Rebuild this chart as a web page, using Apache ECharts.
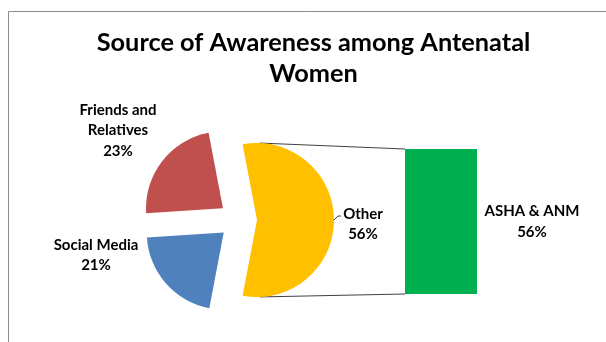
<!DOCTYPE html>
<html>
<head>
<meta charset="utf-8">
<script src="https://cdn.jsdelivr.net/npm/echarts@6/dist/echarts.min.js"></script>
<style>html,body{margin:0;padding:0;background:#fff}#c{width:606px;height:342px}</style>
</head>
<body>
<div id="c"></div>
<script>
// ---- data ----
const pieCategories = ['Other', 'Friends and Relatives', 'Social Media'];
const pieValues = [56, 23, 21];
const barCategories = ['ASHA & ANM'];
const barValues = [56];
const titleText = 'Source of Awareness among Antenatal\nWomen';

// ---- style / layout ----
const pieColors = ['#FFC000', '#C0504D', '#4F81BD'];
const barColor = '#00B050';
const FONT = 'Lato';
const labelPos = [[363, 224], [118, 130.5], [96, 255]];
const OFFSET = 19;

const chart = echarts.init(document.getElementById('c'), null, {renderer: 'canvas'});
const labelStyle = {fontFamily: FONT, fontWeight: 'bold', fontSize: 15, lineHeight: 20.5, fill: '#000'};
const option = {
  animation: false,
  backgroundColor: '#fff',
  title: {
    text: titleText, left: 308.5, top: 22, textAlign: 'center',
    textStyle: {fontFamily: FONT, fontWeight: 'bold', fontSize: 25.3, lineHeight: 31.5, color: '#000'}
  },
  grid: {left: 405, top: 149, width: 72, height: 145},
  xAxis: {type: 'category', data: barCategories, show: false},
  yAxis: {type: 'value', min: 0, max: 56, show: false},
  series: [
    {
      type: 'pie', center: [238, 220], radius: 77,
      startAngle: -100.8, clockwise: false,
      selectedMode: 'multiple', selectedOffset: OFFSET,
      emphasis: {disabled: true}, silent: true,
      label: {show: false}, labelLine: {show: false},
      data: pieCategories.map((n, i) => ({
        name: n, value: pieValues[i], selected: true,
        itemStyle: {color: pieColors[i]}
      }))
    },
    {
      type: 'bar', data: barValues, barWidth: '100%',
      itemStyle: {color: barColor}, silent: true,
      label: {
        show: true, position: 'right', distance: 55, align: 'center',
        formatter: p => p.name + '\n' + p.value + '%',
        fontFamily: FONT, fontWeight: 'bold', fontSize: 15, lineHeight: 20.5, color: '#000'
      }
    }
  ]
};
chart.setOption(option);

// labels + connector lines, derived from the library's layout
const pieData = chart.getModel().getSeriesByIndex(0).getData();
const total = pieValues.reduce((a, b) => a + b, 0);
const graphics = [
  {type: 'rect', shape: {x: 8.5, y: 11.5, width: 700, height: 400}, style: {fill: null, stroke: '#8c8c8c', lineWidth: 1}, silent: true, z: -1}
];
pieCategories.forEach((n, i) => {
  graphics.push({
    type: 'text', x: labelPos[i][0], y: labelPos[i][1], silent: true,
    style: Object.assign({
      text: n.replace(' and ', ' and\n') + '\n' + Math.round(pieValues[i] / total * 100) + '%',
      textAlign: 'center', textVerticalAlign: 'middle'
    }, labelStyle)
  });
});
const L = pieData.getItemLayout(0);
const mid = (L.startAngle + L.endAngle) / 2;
const vx = L.cx + Math.cos(mid) * OFFSET, vy = L.cy + Math.sin(mid) * OFFSET;
const aTop = -88 * Math.PI / 180, aBot = 88 * Math.PI / 180;
const pTop = [vx + L.r * Math.cos(aTop), vy + L.r * Math.sin(aTop)];
const pBot = [vx + L.r * Math.cos(aBot), vy + L.r * Math.sin(aBot)];
const pLab = [vx + L.r, vy];
const B = chart.getModel().getSeriesByIndex(1).getData().getItemLayout(0);
const bx = B.x, byTop = Math.min(B.y, B.y + B.height), byBot = Math.max(B.y, B.y + B.height);
graphics.push(
  {type: 'line', shape: {x1: pTop[0], y1: pTop[1], x2: bx, y2: byTop}, style: {stroke: '#404040', lineWidth: 1}, silent: true},
  {type: 'line', shape: {x1: pBot[0], y1: pBot[1], x2: bx, y2: byBot}, style: {stroke: '#404040', lineWidth: 1}, silent: true},
  {type: 'polyline', shape: {points: [[pLab[0], pLab[1]], [pLab[0] + 4, pLab[1] - 4], [pLab[0] + 7, pLab[1] - 4]]}, style: {stroke: '#404040', lineWidth: 1, fill: null}, silent: true}
);
chart.setOption({graphic: graphics});
</script>
</body>
</html>
